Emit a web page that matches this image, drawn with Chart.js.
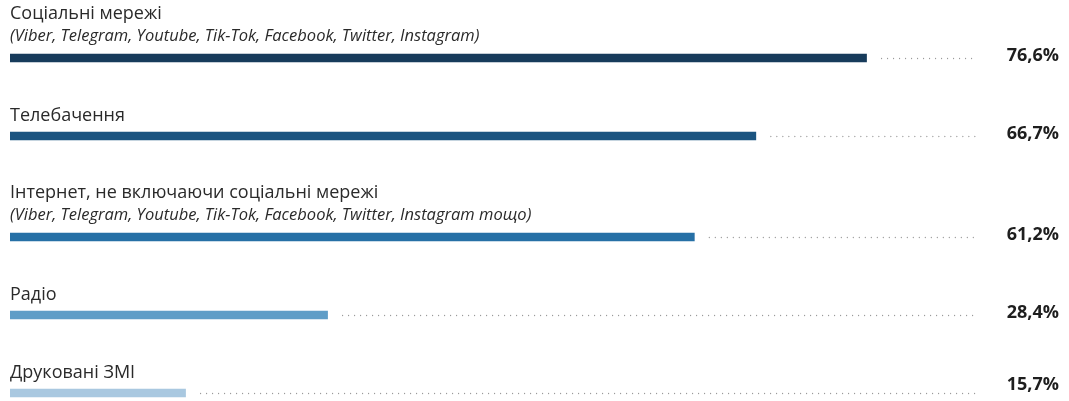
<!DOCTYPE html>
<html lang="uk">
<head>
<meta charset="utf-8">
<title>Джерела інформації</title>
<script src="https://cdn.jsdelivr.net/npm/chart.js@4/dist/chart.umd.min.js"></script>
<style>
  html, body { margin: 0; padding: 0; background: #ffffff; }
  #wrap { width: 1069px; height: 401px; }
</style>
</head>
<body>
<div id="wrap"><canvas id="chart" width="1069" height="401"></canvas></div>
<script>
// Media sources and the share of respondents who use them
const categories = [
  'Соціальні мережі',
  'Телебачення',
  'Інтернет, не включаючи соціальні мережі',
  'Радіо',
  'Друковані ЗМІ'
];
const subtitles = [
  '(Viber, Telegram, Youtube, Tik-Tok, Facebook, Twitter, Instagram)',
  '',
  '(Viber, Telegram, Youtube, Tik-Tok, Facebook, Twitter, Instagram тощо)',
  '',
  ''
];
const values = [76.6, 66.7, 61.2, 28.4, 15.7];
const valueLabels = ['76,6%', '66,7%', '61,2%', '28,4%', '15,7%'];
const barColors = ['#173b5b', '#1b5480', '#2670a6', '#5f9dc7', '#a9c8e0'];

// Vertical layout: each row gets a fixed height, plus extra room when it has an italic second line
const ROW = 78;
const SUB_EXTRA = 23;
const FIRST_BAR = 58;
const CANVAS_H = 401;
const rowPos = [];
categories.forEach((c, i) => {
  if (i === 0) rowPos.push(0);
  else rowPos.push(rowPos[i - 1] + ROW + (subtitles[i] ? SUB_EXTRA : 0));
});

const TEXT = '#2a2a2a';
const FONT = '"Open Sans", "Noto Sans", sans-serif';

const labelsPlugin = {
  id: 'rowLabels',
  afterDatasetsDraw(chart) {
    const ctx = chart.ctx;
    const area = chart.chartArea;
    const meta = chart.getDatasetMeta(0);
    ctx.save();
    meta.data.forEach((bar, i) => {
      const y = bar.y;
      const hasSub = !!subtitles[i];

      // category title
      ctx.fillStyle = TEXT;
      ctx.textAlign = 'left';
      ctx.textBaseline = 'alphabetic';
      ctx.font = '18px ' + FONT;
      ctx.fillText(categories[i], area.left, y - (hasSub ? 39 : 15));

      // italic second line
      if (hasSub) {
        ctx.font = 'italic 16.5px ' + FONT;
        ctx.fillText(subtitles[i], area.left, y - 17);
      }

      // dotted leader from bar end to the right edge of the plot
      ctx.beginPath();
      ctx.setLineDash([0, 6]);
      ctx.lineCap = 'round';
      ctx.lineWidth = 1.3;
      ctx.strokeStyle = '#9a9a9a';
      ctx.moveTo(bar.x + 15, y + 0.5);
      ctx.lineTo(area.right, y + 0.5);
      ctx.stroke();
      ctx.setLineDash([]);

      // value label, kept inside the canvas
      ctx.fillStyle = '#1e1e1e';
      ctx.font = 'bold 18px ' + FONT;
      ctx.textAlign = 'right';
      const vy = Math.min(y + 3, chart.height - 11);
      ctx.fillText(valueLabels[i], chart.width - 10, vy);
    });
    ctx.restore();
  }
};

new Chart(document.getElementById('chart'), {
  type: 'bar',
  data: {
    datasets: [{
      data: values.map((v, i) => ({ x: v, y: rowPos[i] })),
      backgroundColor: barColors,
      borderWidth: 0,
      barThickness: 8
    }]
  },
  options: {
    indexAxis: 'y',
    responsive: false,
    animation: false,
    devicePixelRatio: 1,
    layout: { padding: { left: 10, right: 94, top: 0, bottom: 0 } },
    scales: {
      x: { type: 'linear', min: 0, max: 86.3, display: false },
      y: {
        type: 'linear', reverse: true, offset: false,
        min: -FIRST_BAR, max: CANVAS_H - FIRST_BAR, display: false
      }
    },
    plugins: {
      legend: { display: false },
      tooltip: { enabled: false }
    }
  },
  plugins: [labelsPlugin]
});
</script>
</body>
</html>
